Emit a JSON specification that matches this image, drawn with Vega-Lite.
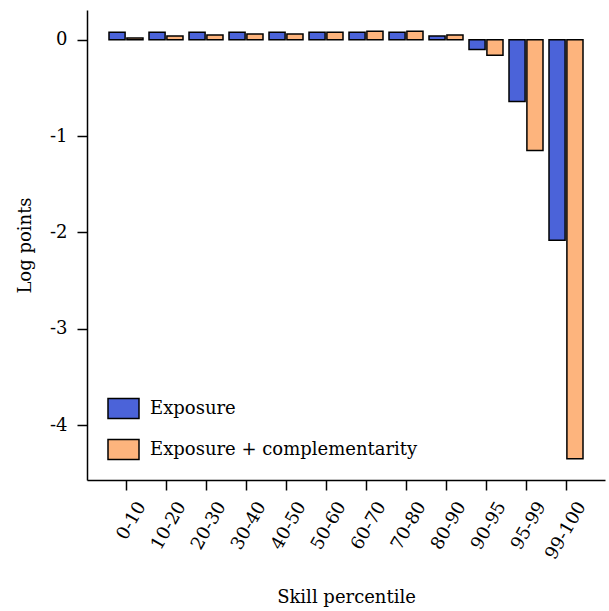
{
  "$schema": "https://vega.github.io/schema/vega-lite/v6.json",
  "width": 518,
  "height": 470,
  "autosize": {"type": "none"},
  "padding": {"left": 87, "top": 10, "right": 4, "bottom": 131},
  "background": "white",
  "config": {
    "view": {"stroke": null},
    "font": "DejaVu Serif",
    "axis": {
      "domainColor": "black", "domainWidth": 1.5,
      "tickColor": "black", "tickWidth": 1.5, "tickSize": 10,
      "labelColor": "black", "labelFont": "DejaVu Serif", "labelFontSize": 18,
      "titleColor": "black", "titleFont": "DejaVu Serif", "titleFontSize": 18, "titleFontWeight": "normal",
      "grid": false
    },
    "legend": {"labelFont": "DejaVu Serif", "labelFontSize": 18, "labelColor": "black"}
  },
  "data": {
    "values": [
      {"skill": "0-10", "series": "Exposure", "value": 0.08},
      {"skill": "0-10", "series": "Exposure + complementarity", "value": 0.02},
      {"skill": "10-20", "series": "Exposure", "value": 0.08},
      {"skill": "10-20", "series": "Exposure + complementarity", "value": 0.04},
      {"skill": "20-30", "series": "Exposure", "value": 0.08},
      {"skill": "20-30", "series": "Exposure + complementarity", "value": 0.05},
      {"skill": "30-40", "series": "Exposure", "value": 0.08},
      {"skill": "30-40", "series": "Exposure + complementarity", "value": 0.06},
      {"skill": "40-50", "series": "Exposure", "value": 0.08},
      {"skill": "40-50", "series": "Exposure + complementarity", "value": 0.06},
      {"skill": "50-60", "series": "Exposure", "value": 0.08},
      {"skill": "50-60", "series": "Exposure + complementarity", "value": 0.08},
      {"skill": "60-70", "series": "Exposure", "value": 0.08},
      {"skill": "60-70", "series": "Exposure + complementarity", "value": 0.09},
      {"skill": "70-80", "series": "Exposure", "value": 0.08},
      {"skill": "70-80", "series": "Exposure + complementarity", "value": 0.09},
      {"skill": "80-90", "series": "Exposure", "value": 0.04},
      {"skill": "80-90", "series": "Exposure + complementarity", "value": 0.05},
      {"skill": "90-95", "series": "Exposure", "value": -0.1},
      {"skill": "90-95", "series": "Exposure + complementarity", "value": -0.16},
      {"skill": "95-99", "series": "Exposure", "value": -0.64},
      {"skill": "95-99", "series": "Exposure + complementarity", "value": -1.15},
      {"skill": "99-100", "series": "Exposure", "value": -2.08},
      {"skill": "99-100", "series": "Exposure + complementarity", "value": -4.35}
    ]
  },
  "mark": {"type": "bar", "stroke": "black", "strokeWidth": 1.5},
  "encoding": {
    "x": {
      "field": "skill", "type": "nominal", "sort": null,
      "scale": {"paddingInner": 0.15, "paddingOuter": 0.55},
      "axis": {"title": "Skill percentile", "labelAngle": -60, "labelPadding": 13, "labelOffset": 16, "titlePadding": 26}
    },
    "xOffset": {
      "field": "series", "type": "nominal",
      "scale": {"paddingInner": 0.1, "paddingOuter": 0}
    },
    "y": {
      "field": "value", "type": "quantitative",
      "scale": {"domain": [-4.57, 0.31], "nice": false, "zero": false},
      "axis": {"title": "Log points", "values": [-4, -3, -2, -1, 0], "labelPadding": 10, "titlePadding": 15, "labelExpr": "'' + datum.value"}
    },
    "fill": {
      "field": "series", "type": "nominal",
      "scale": {"domain": ["Exposure", "Exposure + complementarity"], "range": ["#4B63D9", "#FDB47D"]},
      "legend": {
        "title": null, "orient": "none", "legendX": 20, "legendY": 382,
        "symbolType": "M-1,-0.645H1V0.645H-1Z", "symbolSize": 961,
        "symbolStrokeColor": "black", "symbolStrokeWidth": 1.5,
        "labelOffset": 10, "rowPadding": 11, "padding": 0, "labelLimit": 0
      }
    }
  }
}
